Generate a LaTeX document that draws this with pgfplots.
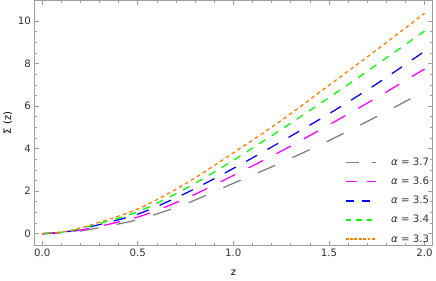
\documentclass[border=0pt]{standalone}
\usepackage{pgfplots}
\pgfplotsset{compat=1.18}
\usepackage{fontspec}
\setmainfont{DejaVu Sans}
\definecolor{mgray}{rgb}{0.5,0.5,0.5}
\definecolor{morange}{rgb}{1,0.5,0}
\definecolor{mmag}{rgb}{1,0,1}
\definecolor{mblue}{rgb}{0,0,1}
\definecolor{mgreen}{rgb}{0,1,0}
\definecolor{framec}{rgb}{0.62,0.62,0.62}
\definecolor{labc}{rgb}{0.2,0.2,0.2}
\pgfplotstableread{
z s
0 0
0.125 0.11
0.25 0.40
0.5 1.16
0.75 2.35
1.0 3.80
1.25 5.32
1.5 6.98
1.75 8.65
2.0 10.37
}\tabA
\pgfplotstableread{
z s
0 0
0.125 0.10
0.25 0.36
0.5 1.03
0.75 2.12
1.0 3.45
1.25 4.90
1.5 6.40
1.75 7.95
2.0 9.53
}\tabB
\pgfplotstableread{
z s
0 0
0.125 0.09
0.25 0.32
0.5 0.92
0.75 1.90
1.0 3.07
1.25 4.33
1.5 5.64
1.75 7.05
2.0 8.58
}\tabC
\pgfplotstableread{
z s
0 0
0.125 0.07
0.25 0.26
0.5 0.78
0.75 1.65
1.0 2.74
1.25 3.88
1.5 5.12
1.75 6.40
2.0 7.75
}\tabD
\pgfplotstableread{
z s
0 0
0.125 0.05
0.25 0.20
0.5 0.66
0.75 1.40
1.0 2.37
1.25 3.34
1.5 4.38
1.75 5.51
2.0 6.70
}\tabE
\begin{document}
\begin{tikzpicture}
\begin{axis}[
  scale only axis, width=401.2pt, height=246.6pt,
  xmin=-0.04, xmax=2.04, ymin=-0.54, ymax=10.96,
  xtick={0,0.5,1,1.5,2}, minor x tick num=4,
  ytick={0,2,4,6,8,10}, minor y tick num=3,
  xticklabel style={/pgf/number format/.cd, fixed, fixed zerofill, precision=1},
  /pgf/number format/assume math mode=true,
  tick align=inside,
  major tick length=4.5pt, minor tick length=2.5pt,
  axis line style={draw=framec, line width=0.7pt},
  every tick/.style={draw=framec, line width=0.6pt},
  tick label style={font=\fontsize{10.3}{11}\selectfont, text=labc},
  xlabel={z}, ylabel={Σ (z)},
  label style={font=\fontsize{10.3}{11}\selectfont, text=labc},
  every axis x label/.style={at={(axis description cs:0.5,0)}, anchor=center, yshift=-27.7pt},
  every axis y label/.style={at={(axis description cs:0,0.5)}, rotate=90, anchor=center, yshift=27pt},
  legend style={draw=none, fill=none, at={(axis description cs:0.780,0.366)}, anchor=north west,
     inner sep=0pt, font=\fontsize{10.3}{11}\selectfont, row sep=6.2pt},
  legend cell align=left,
]
\addplot[smooth, draw=mgray, line width=1.3pt, dash pattern=on 19pt off 19pt,
  legend image code/.code={\draw[draw=mgray, line width=1.6pt, dash pattern=on 13.3pt off 13.3pt] (0pt,0pt) -- (30pt,0pt);}]
  table[x=z,y=s]{\tabE};
\addlegendentry{\hspace{13pt}\textcolor{labc}{\textit{α} = 3.7}}
\addplot[smooth, draw=mmag, line width=1.3pt, dash pattern=on 16.5pt off 15pt,
  legend image code/.code={\draw[draw=mmag, line width=1.6pt, dash pattern=on 11pt off 10.3pt] (0pt,0pt) -- (30pt,0pt);}]
  table[x=z,y=s]{\tabD};
\addlegendentry{\hspace{13pt}\textcolor{labc}{\textit{α} = 3.6}}
\addplot[smooth, draw=mblue, line width=1.3pt, dash pattern=on 12.5pt off 12pt,
  legend image code/.code={\draw[draw=mblue, line width=1.6pt, dash pattern=on 8.3pt off 8pt] (0pt,0pt) -- (30pt,0pt);}]
  table[x=z,y=s]{\tabC};
\addlegendentry{\hspace{13pt}\textcolor{labc}{\textit{α} = 3.5}}
\addplot[smooth, draw=mgreen, line width=1.3pt, dash pattern=on 7.5pt off 7.5pt,
  legend image code/.code={\draw[draw=mgreen, line width=1.6pt, dash pattern=on 5.5pt off 5pt] (0pt,0pt) -- (30pt,0pt);}]
  table[x=z,y=s]{\tabB};
\addlegendentry{\hspace{13pt}\textcolor{labc}{\textit{α} = 3.4}}
\addplot[smooth, draw=morange, line width=1.3pt, dash pattern=on 3.8pt off 3.2pt,
  legend image code/.code={\draw[draw=morange, line width=1.7pt, dash pattern=on 2.8pt off 1.6pt] (0pt,0pt) -- (30pt,0pt);}]
  table[x=z,y=s]{\tabA};
\addlegendentry{\hspace{13pt}\textcolor{labc}{\textit{α} = 3.3}}
\end{axis}
\path ([xshift=-34.3pt,yshift=-35.7pt]current axis.south west) rectangle ([xshift=0.5pt,yshift=0.7pt]current axis.north east);
\end{tikzpicture}
\end{document}
